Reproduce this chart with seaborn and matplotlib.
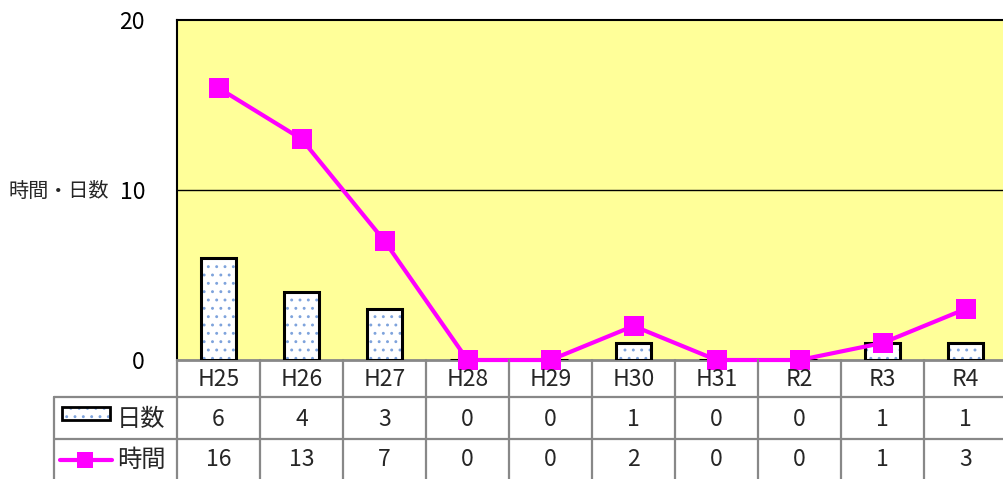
import matplotlib
matplotlib.use("Agg")
import matplotlib.pyplot as plt
import seaborn as sns
import pandas as pd
from matplotlib.patches import Rectangle
from matplotlib.lines import Line2D

years = ["H25", "H26", "H27", "H28", "H29", "H30", "H31", "R2", "R3", "R4"]
days = [6, 4, 3, 0, 0, 1, 0, 0, 1, 1]
hours = [16, 13, 7, 0, 0, 2, 0, 0, 1, 3]
row_labels = ["日数", "時間"]
y_label = "時間・日数"
y_ticks = [0, 10, 20]

sns.set_theme(style="white")
plt.rcParams['font.family'] = ['Noto Sans CJK JP', 'DejaVu Sans']
plt.rcParams['hatch.linewidth'] = 0.9

W, H = 1004, 479
fig = plt.figure(figsize=(W / 100, H / 100), dpi=100)
fig.patch.set_facecolor("white")

def fx(px):
    return px / W

def fy(py):
    return 1 - py / H

FS = 16.5
PLOT_L, PLOT_R, PLOT_T, PLOT_B = 177, 1007, 20, 360
ax = fig.add_axes([fx(PLOT_L), fy(PLOT_B), fx(PLOT_R - PLOT_L), (PLOT_B - PLOT_T) / H])
ax.set_facecolor("#FFFF99")

df = pd.DataFrame({"year": years, "days": days, "hours": hours})

DOT = "#7ea3dc"
sns.barplot(data=df, x="year", y="days", ax=ax, color="white", width=0.42,
            edgecolor=DOT, linewidth=0, hatch="..", saturation=1, zorder=2)
sns.barplot(data=df, x="year", y="days", ax=ax, fill=False, width=0.42,
            edgecolor="black", linewidth=2.2, saturation=1, zorder=3)
sns.lineplot(data=df, x="year", y="hours", ax=ax, color="#FF00FF", linewidth=3,
             marker="s", markersize=14.5, markeredgewidth=0, sort=False, zorder=4)
for ln in ax.lines:
    ln.set_clip_on(False)

ax.set_xlim(-0.5, 9.5)
ax.set_ylim(0, 20)
ax.set_yticks(y_ticks)
ax.set_yticklabels([str(t) for t in y_ticks], fontsize=FS)
ax.tick_params(axis="y", length=0, pad=23, colors="black")
ax.set_xticks([])
ax.set_xlabel("")
ax.set_ylabel("")
ax.axhline(10, color="black", linewidth=1, zorder=1)
for s in ["top", "left"]:
    ax.spines[s].set_color("black")
    ax.spines[s].set_linewidth(1.5)
ax.spines["right"].set_visible(False)
ax.spines["bottom"].set_color("#888888")
ax.spines["bottom"].set_linewidth(2)

fig.text(fx(8), fy(191), y_label, fontsize=14.5, ha="left", va="center")

# data table beneath, sharing the category scale
tab = fig.add_axes([fx(PLOT_L), 0, fx(PLOT_R - PLOT_L), (H - PLOT_B) / H], sharex=ax)
tab.set_ylim(H, PLOT_B)
tab.axis("off")
tab.set_zorder(2)
GRID = "#888888"
ROW1, ROW2, ROWEND = 397, 439, 481
hdr_c, r1_c, r2_c = (PLOT_B + ROW1) / 2 + 1, (ROW1 + ROW2) / 2 + 1, (ROW2 + ROWEND) / 2
for i, yr in enumerate(years):
    tab.text(i, hdr_c, yr, ha="center", va="center", fontsize=FS)
    tab.text(i, r1_c, str(days[i]), ha="center", va="center", fontsize=FS)
    tab.text(i, r2_c, str(hours[i]), ha="center", va="center", fontsize=FS)
for i in range(len(years) + 1):
    tab.plot([i - 0.5, i - 0.5], [PLOT_B, ROWEND], color=GRID, lw=1.6, clip_on=False)

# label column and horizontal grid lines in figure pixel space
lab = fig.add_axes([0, 0, 1, (H - PLOT_B) / H])
lab.set_xlim(0, W)
lab.set_ylim(H, PLOT_B)
lab.axis("off")
lab.set_zorder(2)
for yy in (ROW1, ROW2):
    lab.plot([54, W], [yy, yy], color=GRID, lw=1.6, clip_on=False)
lab.plot([54, 54], [ROW1, ROWEND], color=GRID, lw=1.6, clip_on=False)
lab.add_patch(Rectangle((62, 407), 48, 13, facecolor="white", edgecolor=DOT,
                        hatch="..", lw=0))
lab.add_patch(Rectangle((62, 407), 48, 13, fill=False, edgecolor="black", lw=2))
lab.text(141, r1_c, row_labels[0], ha="center", va="center", fontsize=FS + 1)
lab.add_line(Line2D([60, 112], [r2_c, r2_c], color="#FF00FF", lw=3))
lab.add_line(Line2D([85.5], [r2_c], color="#FF00FF", marker="s", markersize=11,
                    markeredgewidth=0))
lab.text(141, r2_c, row_labels[1], ha="center", va="center", fontsize=FS + 1)

fig.savefig("out.png", dpi=100)
